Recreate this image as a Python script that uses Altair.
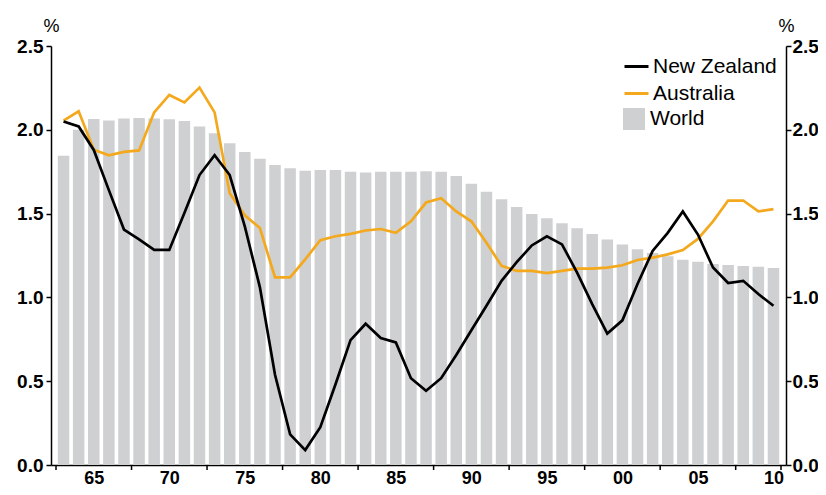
import altair as alt
import pandas as pd

years = list(range(1963, 2011))

world = [1.845, 2.00, 2.065, 2.055, 2.068, 2.07, 2.068, 2.063, 2.053, 2.02,
         1.98, 1.92, 1.868, 1.828, 1.79, 1.77, 1.755, 1.76, 1.76, 1.75,
         1.745, 1.75, 1.75, 1.75, 1.752, 1.75, 1.725, 1.678, 1.63, 1.586,
         1.54, 1.498, 1.473, 1.442, 1.413, 1.379, 1.346, 1.315, 1.287, 1.265,
         1.245, 1.225, 1.212, 1.20, 1.193, 1.188, 1.183, 1.176]

nz = [2.05, 2.02, 1.88, 1.64, 1.405, 1.346, 1.283, 1.283, 1.503, 1.73,
      1.848, 1.73, 1.424, 1.06, 0.538, 0.183, 0.089, 0.226, 0.48, 0.745,
      0.843, 0.758, 0.731, 0.518, 0.443, 0.518, 0.656, 0.804, 0.95, 1.099,
      1.21, 1.31, 1.365, 1.316, 1.148, 0.96, 0.784, 0.863, 1.08, 1.277,
      1.385, 1.513, 1.375, 1.178, 1.086, 1.099, 1.02, 0.95]

aus = [2.055, 2.11, 1.881, 1.848, 1.868, 1.877, 2.104, 2.208, 2.163, 2.252,
       2.104, 1.621, 1.49, 1.414, 1.119, 1.119, 1.227, 1.342, 1.365, 1.379,
       1.399, 1.408, 1.385, 1.454, 1.566, 1.592, 1.513, 1.454, 1.326, 1.188,
       1.158, 1.158, 1.145, 1.158, 1.172, 1.172, 1.178, 1.192, 1.223, 1.237,
       1.257, 1.283, 1.349, 1.454, 1.578, 1.578, 1.513, 1.527]

x_label_years = [1965, 1970, 1975, 1980, 1985, 1990, 1995, 2000, 2005, 2010]
x_tick_years = [1962.5, 1967.5, 1972.5, 1977.5, 1982.5, 1987.5, 1992.5,
                1997.5, 2002.5, 2007.5, 2010.5]
y_ticks = [0.0, 0.5, 1.0, 1.5, 2.0, 2.5]

bars_df = pd.DataFrame({"year": years, "value": world, "series": "World"})
lines_df = pd.concat([
    pd.DataFrame({"year": years, "value": aus, "series": "Australia"}),
    pd.DataFrame({"year": years, "value": nz, "series": "New Zealand"}),
], ignore_index=True)
ticks_df = pd.DataFrame({"year": x_tick_years})

FONT = "Liberation Sans"
W, H = 735, 419

xscale = alt.Scale(domain=[1962.5, 2010.5], nice=False, zero=False)
yscale = alt.Scale(domain=[0, 2.5], nice=False, zero=True)

x_axis = alt.Axis(values=x_label_years,
                  labelExpr="format(datum.value % 100, '02d')",
                  ticks=False, tickSize=0, grid=False, title=None,
                  labelFont=FONT, labelFontSize=18, labelFontWeight="bold",
                  labelColor="black", labelPadding=4,
                  domainColor="black", domainWidth=1.5)


def y_axis(orient, pad):
    return alt.Axis(orient=orient, values=y_ticks, format=".1f",
                    title="%", titleAngle=0, titleX=0, titleY=-15,
                    titleAlign="center", titleBaseline="alphabetic",
                    titleFont=FONT, titleFontSize=18, titleFontWeight="normal",
                    titleColor="black",
                    labelFont=FONT, labelFontSize=19, labelFontWeight="bold",
                    labelColor="black", labelPadding=pad,
                    grid=False, tickSize=5, tickColor="black", tickWidth=1.5,
                    domainColor="black", domainWidth=1.5)


bars = alt.Chart(bars_df).mark_bar(size=11.5).encode(
    x=alt.X("year:Q", scale=xscale, axis=x_axis),
    y=alt.Y("value:Q", scale=yscale, axis=y_axis("left", 3)),
    fill=alt.Fill("series:N",
                  scale=alt.Scale(domain=["World"], range=["#cfd0d2"]),
                  legend=alt.Legend(orient="none", legendX=572, legendY=62,
                                    title=None, symbolType="square",
                                    symbolSize=484, symbolStrokeWidth=0,
                                    labelFont=FONT, labelFontSize=21,
                                    labelColor="black", labelOffset=5,
                                    padding=0)),
)

ticks = alt.Chart(ticks_df).mark_rule(color="black", strokeWidth=1.5).encode(
    x=alt.X("year:Q", scale=xscale, axis=x_axis),
    y=alt.value(H),
    y2=alt.value(H + 5),
)

lines = alt.Chart(lines_df).mark_line(strokeWidth=2.7).encode(
    x=alt.X("year:Q", scale=xscale, axis=x_axis),
    y=alt.Y("value:Q", scale=yscale, axis=y_axis("right", 1)),
    stroke=alt.Stroke("series:N",
                      scale=alt.Scale(domain=["New Zealand", "Australia"],
                                      range=["#000000", "#f4a81c"]),
                      legend=alt.Legend(orient="none", legendX=572, legendY=7,
                                        title=None, symbolType="stroke",
                                        symbolSize=576, symbolStrokeWidth=3,
                                        labelFont=FONT, labelFontSize=21,
                                        labelColor="black", labelOffset=3,
                                        rowPadding=3, padding=0)),
    detail="series:N",
)

chart = alt.layer(bars, ticks, lines).resolve_scale(
    y="independent"
).properties(
    width=W, height=H,
    autosize=alt.AutoSizeParams(type="none"),
    padding={"left": 43, "top": 38, "right": 32, "bottom": 22},
).configure_view(stroke=None)

chart.save("out.html", embed_options={"renderer": "svg", "actions": False})
